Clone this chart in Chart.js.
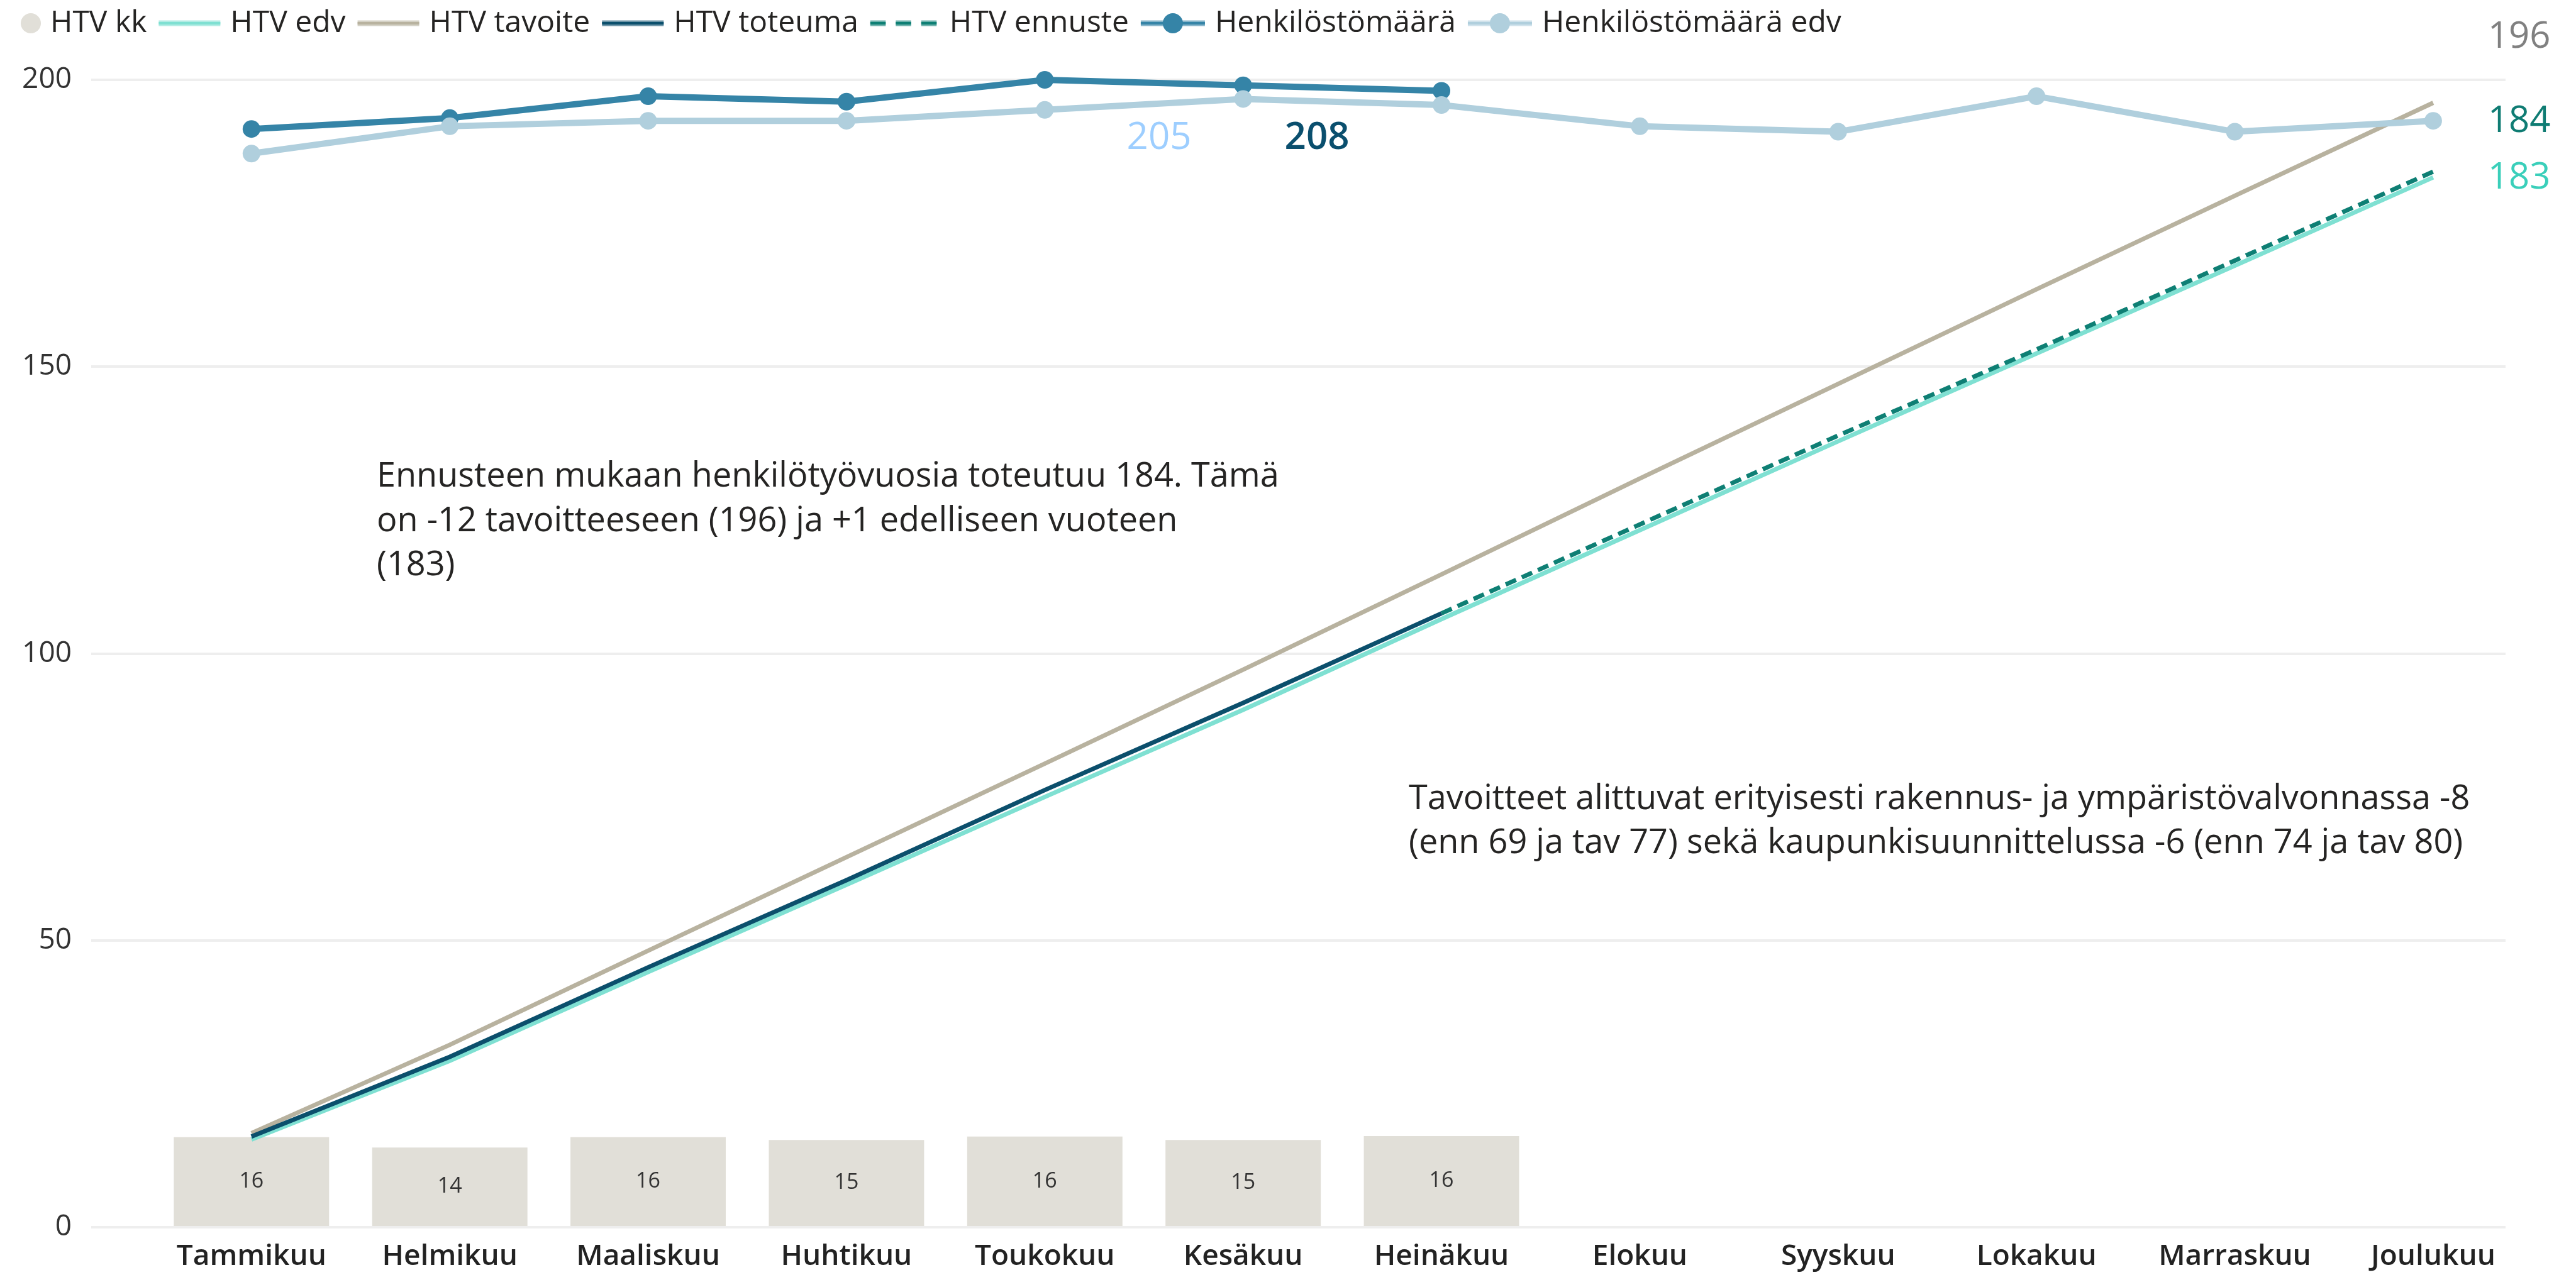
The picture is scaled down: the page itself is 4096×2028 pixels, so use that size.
<!DOCTYPE html>
<html>
<head>
<meta charset="utf-8">
<script src="https://cdn.jsdelivr.net/npm/chart.js@4.4.1/dist/chart.umd.min.js"></script>
<style>
  html, body { margin: 0; padding: 0; background: #fff; }
  #wrap { width: 4096px; height: 2028px; position: relative; }
</style>
</head>
<body>
<div id="wrap"><canvas id="htvChart"></canvas></div>
<script>
const months = ['Tammikuu', 'Helmikuu', 'Maaliskuu', 'Huhtikuu', 'Toukokuu', 'Kesäkuu',
  'Heinäkuu', 'Elokuu', 'Syyskuu', 'Lokakuu', 'Marraskuu', 'Joulukuu'];
const yTicks = [0, 50, 100, 150, 200];

const htvKk = [15.7, 13.9, 15.7, 15.2, 15.8, 15.2, 15.9];
const htvEdv = [15.3, 29, 44.5, 59.7, 75, 90.2, 106, 121.5, 137, 152.3, 167.6, 183];
const htvTavoite = [16.4, 31.8, 48.2, 64.5, 80.8, 97.2, 113.8, 130.5, 147, 163.5, 179.8, 196];
const htvToteuma = [15.8, 29.7, 45.3, 60.5, 76.2, 91.4, 107];
const htvEnnuste = [null, null, null, null, null, null, 107, 122.5, 138, 153, 168.5, 184];
const henkilosto = [201, 203, 207, 206, 210, 209, 208];
const henkilostoEdv = [196.5, 201.5, 202.5, 202.5, 204.5, 206.5, 205.4, 201.5, 200.5, 207, 200.5, 202.5];

const note1 = ['Ennusteen mukaan henkilötyövuosia toteutuu 184. Tämä',
  'on -12 tavoitteeseen (196) ja +1 edelliseen vuoteen', '(183)'];
const note2 = ['Tavoitteet alittuvat erityisesti rakennus- ja ympäristövalvonnassa -8',
  '(enn 69 ja tav 77) sekä kaupunkisuunnittelussa -6 (enn 74 ja tav 80)'];

const FONT = '"Open Sans", "Noto Sans", sans-serif';
Chart.defaults.font.family = FONT;

const pts = arr => arr.map((v, i) => ({ x: i, y: v }));

// custom legend + text labels drawn on the canvas
const extrasPlugin = {
  id: 'extras',
  afterDraw(chart) {
    const ctx = chart.ctx;
    ctx.save();

    // legend
    let x = 34;
    const ly = 37;
    ctx.font = '48px ' + FONT;
    ctx.textBaseline = 'middle';
    chart.data.datasets.forEach(ds => {
      const col = ds.legendColor || ds.borderColor || ds.backgroundColor;
      let w;
      if (ds.type === 'bar') {
        w = 30;
        ctx.fillStyle = col;
        ctx.beginPath();
        ctx.arc(x + 15, ly, 16, 0, Math.PI * 2);
        ctx.fill();
      } else if (ds.borderDash) {
        w = 110;
        ctx.strokeStyle = col;
        ctx.lineWidth = 9;
        ctx.globalAlpha = 0.6;
        ctx.setLineDash([24.5, 16]);
        ctx.beginPath(); ctx.moveTo(x, ly); ctx.lineTo(x + w, ly); ctx.stroke();
        ctx.globalAlpha = 1;
        ctx.lineWidth = 4;
        ctx.beginPath(); ctx.moveTo(x, ly); ctx.lineTo(x + w, ly); ctx.stroke();
        ctx.setLineDash([]);
      } else {
        w = ds.pointRadius ? 102 : 98;
        ctx.strokeStyle = col;
        ctx.lineWidth = 9;
        ctx.globalAlpha = 0.6;
        ctx.beginPath(); ctx.moveTo(x, ly); ctx.lineTo(x + w, ly); ctx.stroke();
        ctx.globalAlpha = 1;
        ctx.lineWidth = 4;
        ctx.beginPath(); ctx.moveTo(x, ly); ctx.lineTo(x + w, ly); ctx.stroke();
        if (ds.pointRadius) {
          ctx.fillStyle = col;
          ctx.beginPath();
          ctx.arc(x + w / 2, ly, 16, 0, Math.PI * 2);
          ctx.fill();
        }
      }
      x += w + 16;
      ctx.fillStyle = '#252423';
      ctx.textAlign = 'left';
      ctx.fillText(ds.label, x, ly);
      x += ctx.measureText(ds.label).width + 19;
    });

    // notes
    ctx.textBaseline = 'alphabetic';
    ctx.fillStyle = '#252423';
    ctx.font = '54px ' + FONT;
    note1.forEach((t, i) => ctx.fillText(t, 599, 774 + i * 70.5));
    note2.forEach((t, i) => ctx.fillText(t, 2240, 1287 + i * 69.5));

    // end labels at the last points
    const endLabel = (dsIndex, color, dx, dy) => {
      const meta = chart.getDatasetMeta(dsIndex);
      const el = meta.data[meta.data.length - 1];
      const v = chart.data.datasets[dsIndex].data[meta.data.length - 1].y;
      ctx.fillStyle = color;
      ctx.font = '58px ' + FONT;
      ctx.textAlign = 'left';
      ctx.fillText(String(Math.round(v)), el.x + dx, el.y + dy);
    };
    endLabel(2, '#808080', 87, -88);
    endLabel(4, '#0F7C73', 87, -63);
    endLabel(1, '#3ACFBA', 87, 18);

    // staff count labels
    const hMeta = chart.getDatasetMeta(5);
    const hLast = hMeta.data[henkilosto.length - 1];
    const top = chart.chartArea.top;
    ctx.textAlign = 'center';
    ctx.font = '60px ' + FONT;
    ctx.fillStyle = '#9DCEFF';
    ctx.fillText(String(Math.round(henkilostoEdv[henkilosto.length - 1])), hLast.x - 449, top + 110);
    ctx.font = '600 60px ' + FONT;
    ctx.fillStyle = '#0A4F6E';
    ctx.fillText(String(Math.round(henkilosto[henkilosto.length - 1])), hLast.x - 198, top + 110);

    ctx.restore();
  },
  afterDatasetsDraw(chart) {
    const ctx = chart.ctx;
    const meta = chart.getDatasetMeta(0);
    ctx.save();
    ctx.font = '34px ' + FONT;
    ctx.fillStyle = '#333';
    ctx.textAlign = 'center';
    ctx.textBaseline = 'middle';
    meta.data.forEach((bar, i) => {
      ctx.fillText(String(Math.round(htvKk[i])), bar.x, (bar.y + bar.base) / 2);
    });
    ctx.restore();
  }
};

new Chart(document.getElementById('htvChart'), {
  type: 'line',
  data: {
    datasets: [
      { type: 'bar', label: 'HTV kk', data: pts(htvKk), backgroundColor: '#E1DFD8',
        barPercentage: 0.783, categoryPercentage: 1, order: 10, yAxisID: 'y' },
      { label: 'HTV edv', data: pts(htvEdv), borderColor: '#7FE0D2', borderWidth: 7,
        pointRadius: 0, order: 6, yAxisID: 'y' },
      { label: 'HTV tavoite', data: pts(htvTavoite), borderColor: '#B8B29F', borderWidth: 7,
        pointRadius: 0, order: 5, yAxisID: 'y' },
      { label: 'HTV toteuma', data: pts(htvToteuma), borderColor: '#0B4F6C', borderWidth: 7,
        pointRadius: 0, order: 4, yAxisID: 'y' },
      { label: 'HTV ennuste', data: pts(htvEnnuste), borderColor: '#0E7F74', borderWidth: 7,
        borderDash: [18, 10], pointRadius: 0, order: 3, yAxisID: 'y' },
      { label: 'Henkilöstömäärä', data: pts(henkilosto), borderColor: '#3584A7',
        backgroundColor: '#3584A7', borderWidth: 10, pointRadius: 14, pointBorderWidth: 0,
        pointBackgroundColor: '#3584A7', order: 2, yAxisID: 'y2' },
      { label: 'Henkilöstömäärä edv', data: pts(henkilostoEdv), borderColor: '#B0CFDD',
        backgroundColor: '#B0CFDD', borderWidth: 10, pointRadius: 14, pointBorderWidth: 0,
        pointBackgroundColor: '#B0CFDD', order: 1, yAxisID: 'y2' }
    ]
  },
  options: {
    responsive: true,
    maintainAspectRatio: false,
    devicePixelRatio: 1,
    animation: false,
    datasets: { line: { tension: 0, clip: false, spanGaps: false } },
    layout: { padding: { top: 127, right: 112, left: 0, bottom: 0 } },
    plugins: { legend: { display: false }, tooltip: { enabled: false } },
    scales: {
      x: {
        type: 'linear', min: -0.808, max: 11.365, offset: false,
        afterBuildTicks: s => { s.ticks = months.map((m, i) => ({ value: i })); },
        afterFit: s => { s.height = 76; },
        grid: { display: false, drawTicks: false },
        border: { display: false },
        ticks: { autoSkip: false, maxRotation: 0, padding: 19, color: '#222',
          font: { size: 46, weight: '600' }, callback: v => months[v] }
      },
      y: {
        min: 0, max: 200,
        afterBuildTicks: s => { s.ticks = yTicks.map(v => ({ value: v })); },
        afterFit: s => { s.width = 145; },
        grid: { color: '#EEEEEE', lineWidth: 4, drawTicks: false },
        border: { display: false },
        ticks: { padding: 31, color: '#333', font: { size: 46 } }
      },
      y2: { position: 'right', display: false, min: 0, max: 210 }
    }
  },
  plugins: [extrasPlugin]
});
</script>
</body>
</html>
